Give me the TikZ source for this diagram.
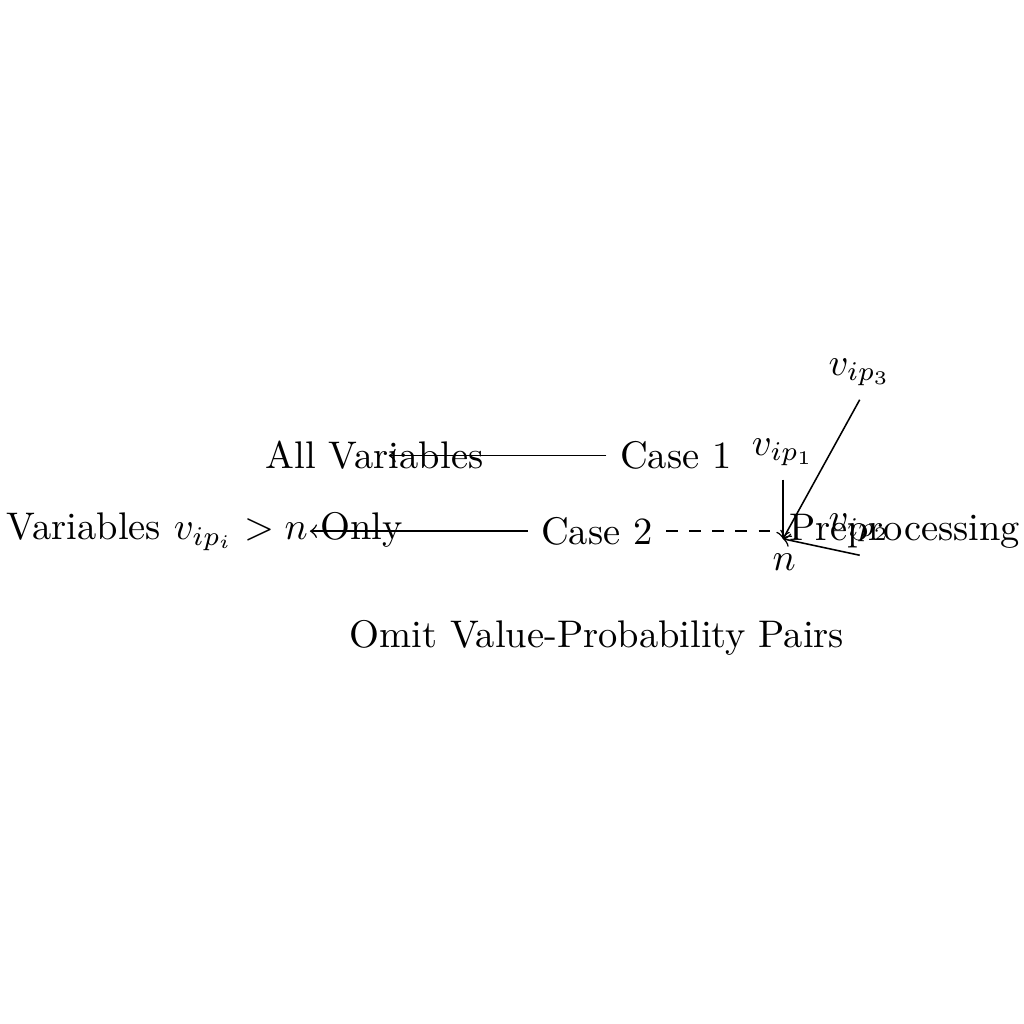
\documentclass[tikz,border=0pt]{standalone}
\usepackage{amsmath}
\usetikzlibrary{positioning}

\tikzset{
  etiquette/.style={inner sep=3.33pt},
  fleche/.style={->, line width=0.4pt}
}

\begin{document}
\begin{tikzpicture}
  % Cadre fixe de l'image
  \useasboundingbox (-5.45,-4.50) rectangle (3.90,4.85);

  % Les deux cas
  \node[etiquette] (case2) at (0,0) {Case 2};
  \node[etiquette] (case1) at (0.72,0.69) {Case 1};

  % Résultats de chaque cas
  \node[etiquette] (allvar) at (-2.03,0.69) {All Variables};
  \node[etiquette] (varonly) at (-3.58,0) {Variables $v_{ip_i} > n$ Only};
  \coordinate (allvartip) at (-1.90,0.69);
  \coordinate (varonlytip) at (-2.62,0);

  % Prétraitement et point de convergence
  \node[etiquette] (pre) at (2.81,0) {Preprocessing};
  \coordinate (hub) at (1.70,-0.07);
  \node[etiquette] (n) at (1.71,-0.28) {$n$};

  % Paires valeur-probabilité
  \node[etiquette] (v1) at (1.70,0.72) {$v_{ip_1}$};
  \node[etiquette] (v2) at (2.40,0.03) {$v_{ip_2}$};
  \node[etiquette] (v3) at (2.40,1.45) {$v_{ip_3}$};

  % Légende du bas
  \node[etiquette] (omit) at (0,-0.97) {Omit Value-Probability Pairs};

  % Flèches
  \draw[fleche] (case1.west) -- (allvartip);
  \draw[fleche] (case2.west) -- (varonlytip);
  \draw[dashed] (case2.east) -- (pre.west);
  \draw[fleche] (v1.south) -- (hub);
  \draw[fleche] (v2.south) -- (hub);
  \draw[fleche] (v3.south) -- (hub);
\end{tikzpicture}
\end{document}
